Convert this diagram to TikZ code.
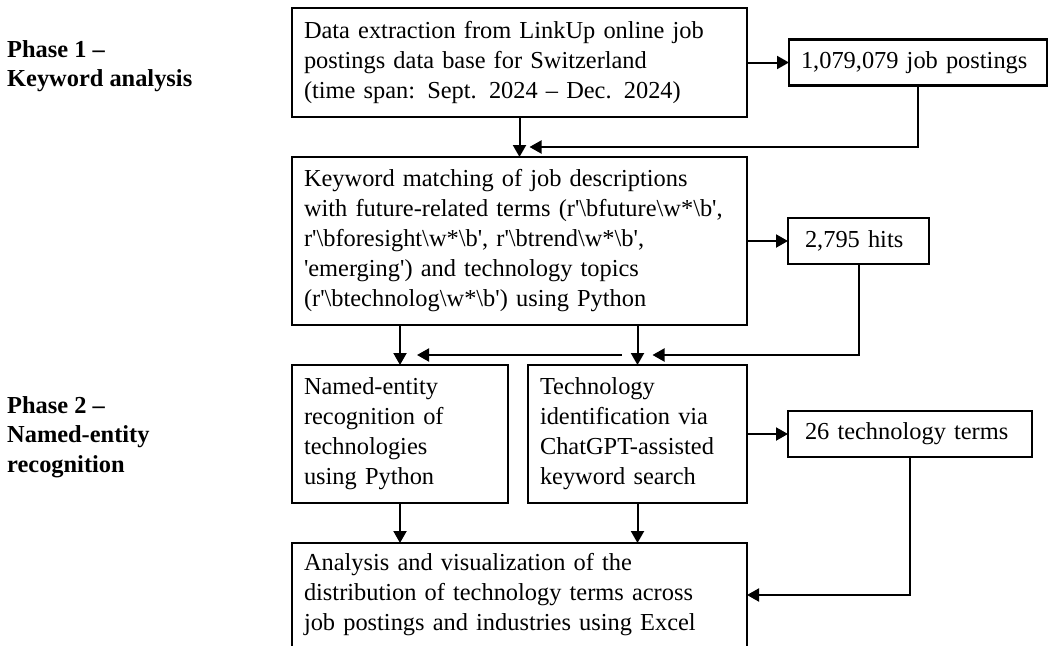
\documentclass[tikz,border=0pt]{standalone}
\usepackage{fontspec}
\setmainfont{Liberation Serif}
\usetikzlibrary{positioning,arrows.meta}
\newcommand{\bsl}{\textbackslash}
\newcommand{\sq}{\textquotesingle}

\begin{document}
\begin{tikzpicture}[
    x=1pt, y=-1pt,
    >={Triangle[length=12pt,width=13pt]},
    every node/.style={font=\fontsize{24.4}{30}\selectfont},
    stage/.style={draw, line width=2.4pt, align=left, inner xsep=12pt, inner ysep=0pt, outer sep=0pt, anchor=north west},
    result/.style={draw, line width=2.4pt, align=left, inner xsep=17pt, inner ysep=0pt, outer sep=0pt, minimum height=46pt},
    phase/.style={align=left, inner sep=0pt, anchor=west, font=\fontsize{24.4}{29.5}\selectfont\bfseries},
    flow/.style={->, line width=2pt}
]
\useasboundingbox (0,0) rectangle (1049,645);

\node[phase] (p1) at (7,66) {Phase 1 --\\Keyword analysis};
\node[phase] (p2) at (7,437) {Phase 2 --\\Named-entity\\recognition};

\node[stage, text width=431pt, minimum height=109pt] (extract) at (292,8) {Data extraction from LinkUp online job\\postings data base for Switzerland\\(time span: Sept. 2024 -- Dec. 2024)};
\node[stage, text width=431pt, minimum height=168pt, below=40pt of extract.south west, anchor=north west] (keyword) {Keyword matching of job descriptions\\with future-related terms (r\sq\bsl bfuture\bsl w*\bsl b\sq,\\r\sq\bsl bforesight\bsl w*\bsl b\sq, r\sq\bsl btrend\bsl w*\bsl b\sq,\\\sq emerging\sq) and technology topics\\(r\sq\bsl btechnolog\bsl w*\bsl b\sq) using Python};
\node[stage, text width=192pt, minimum height=138pt, below=40pt of keyword.south west, anchor=north west] (ner) {Named-entity\\recognition of\\technologies\\using Python};
\node[stage, text width=195pt, minimum height=138pt, right=20pt of ner.north east, anchor=north west] (ident) {Technology\\identification via\\ChatGPT-assisted\\keyword search};
\node[stage, text width=431pt, minimum height=104pt, below=40pt of ner.south west, anchor=north west] (analysis) {Analysis and visualization of the\\distribution of technology terms across\\job postings and industries using Excel};

\node[result, text width=234pt, inner xsep=12pt, right=42pt of extract] (jobs) {1,079,079 job postings};
\node[result, text width=107pt, right=41pt of keyword] (hits) {2,795 hits};
\node[result, text width=210pt, right=41pt of ident] (terms) {26 technology terms};

\coordinate (kwin) at ([xshift=10pt,yshift=10pt]keyword.north);
\coordinate (idin) at ([xshift=15pt,yshift=10pt]ident.north);
\coordinate (split) at ([xshift=-16pt,yshift=10pt]ident.north);
\coordinate (nerin) at ([xshift=17pt,yshift=10pt]ner.north);

\draw[flow] (extract) -- (jobs);
\draw[flow] (extract) -- (keyword);
\draw[flow] (jobs.south) |- (kwin);
\draw[flow] (keyword) -- (hits);
\draw[flow] (hits.south) |- (idin);
\draw[flow] (keyword.south -| ner.north) -- (ner.north);
\draw[flow] (keyword.south -| ident.north) -- (ident.north);
\draw[flow] (split) -- (nerin);
\draw[flow] (ident) -- (terms);
\draw[flow] (terms.south) |- (analysis.east);
\draw[flow] (ner) -- (ner.south |- analysis.north);
\draw[flow] (ident) -- (ident.south |- analysis.north);

\end{tikzpicture}
\end{document}
